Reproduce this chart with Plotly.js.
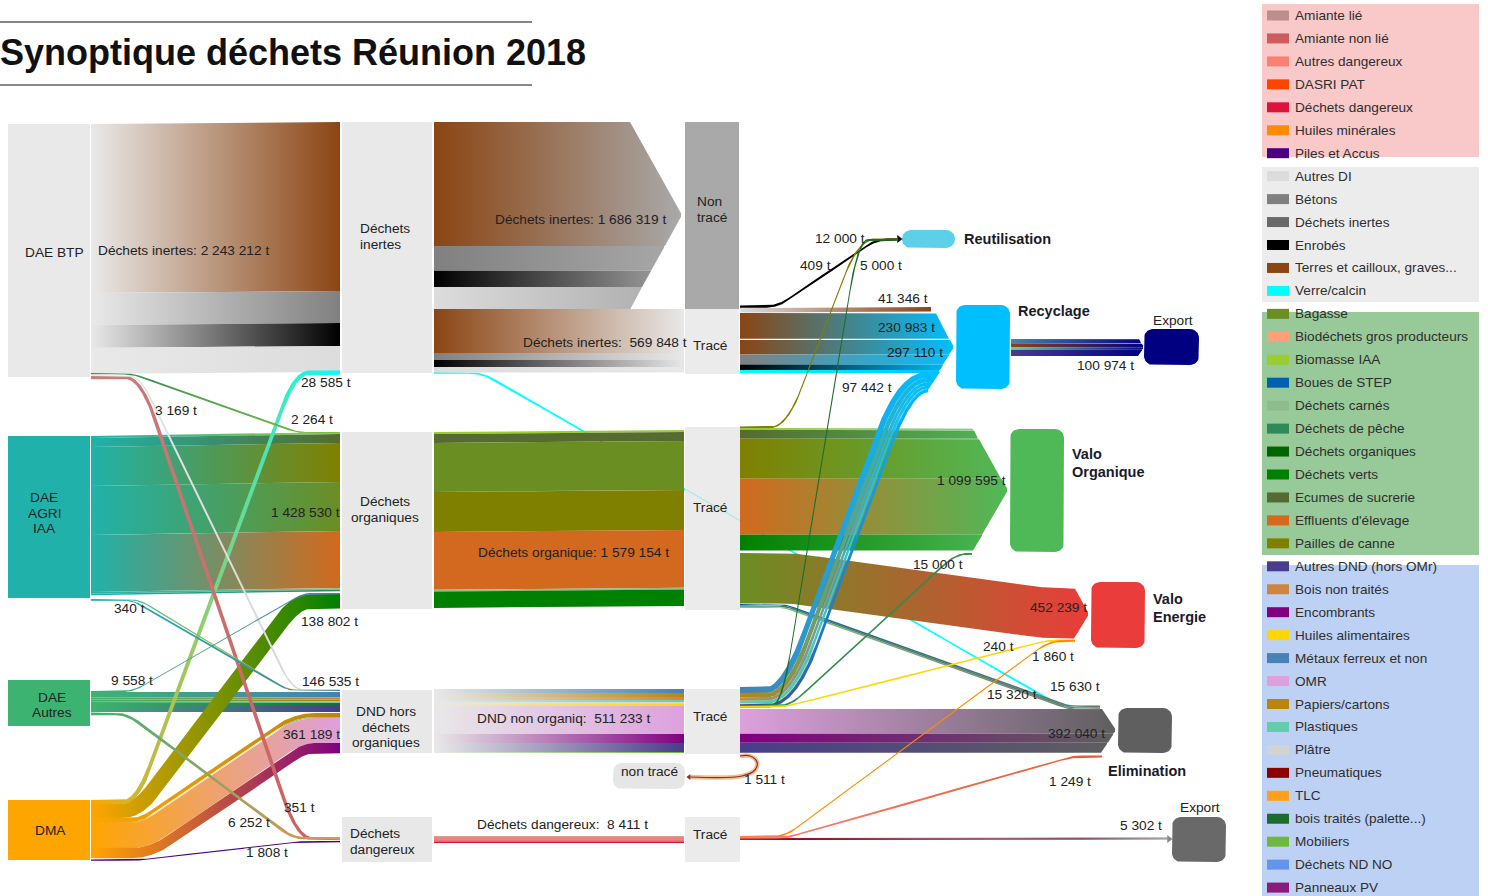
<!DOCTYPE html>
<html><head><meta charset="utf-8">
<script src="https://cdn.plot.ly/plotly-3.0.1.min.js"></script>
<style>html,body{margin:0;padding:0;background:#fff}#chart{width:1488px;height:896px}</style>
</head><body><div id="chart"></div>
<script>
// ---------- legend ----------
const legendNames=['Amiante lié','Amiante non lié','Autres dangereux','DASRI PAT','Déchets dangereux','Huiles minérales','Piles et Accus',
'Autres DI','Bétons','Déchets inertes','Enrobés','Terres et cailloux, graves...','Verre/calcin',
'Bagasse','Biodéchets gros producteurs','Biomasse IAA','Boues de STEP','Déchets carnés','Déchets de pêche','Déchets organiques','Déchets verts','Ecumes de sucrerie',"Effluents d'élevage",'Pailles de canne',
'Autres DND (hors OMr)','Bois non traités','Encombrants','Huiles alimentaires','Métaux ferreux et non','OMR','Papiers/cartons','Plastiques','Plâtre','Pneumatiques','TLC','bois traités (palette...)','Mobiliers','Déchets ND NO','Panneaux PV'];
const legendColors=['#bc8f8f','#cd5c5c','#fa8072','#ff4500','#dc143c','#ff8c00','#4b0082',
'#dcdcdc','#808080','#696969','#000000','#8b4513','#00ffff',
'#6b8e23','#ffa07a','#9acd32','#0060b0','#8fbc8f','#2e8b57','#006400','#008000','#556b2f','#d2691e','#808000',
'#483d8b','#cd853f','#800080','#ffd700','#4682b4','#dda0dd','#b8860b','#66cdaa','#d3d3d3','#8b0000','#ff9f1c','#1e6b2e','#6fb83f','#6495ed','#8b1a7a'];
const colorOf=n=>legendColors[legendNames.indexOf(n)];

// ---------- flow values (tonnes) ----------
const btpInertesMats=['Terres et cailloux, graves...','Bétons','Enrobés','Autres DI'];
const btpInertesVals=[1517212,287000,206000,233000];
const nonTraceVals=[1112319,224000,144000,206000];
const traceInertesVals=[395000,63000,62000,49848];
const agriMats=['Biomasse IAA','Ecumes de sucrerie','Pailles de canne','Bagasse',"Effluents d'élevage",'Déchets carnés','Déchets de pêche'];
const agriVals=[18000,80000,350000,440000,512000,15000,13530];
const organiqueMats=['Biomasse IAA','Ecumes de sucrerie','Bagasse','Pailles de canne',"Effluents d'élevage",'Déchets carnés','Déchets verts'];
const organiqueVals=[18000,80000,440000,359000,520000,15000,147154];
const autresMats=['Métaux ferreux et non','Bois non traités','Papiers/cartons','Plastiques','bois traités (palette...)','Autres DND (hors OMr)'];
const autresVals=[40000,14000,14000,12000,14000,52535];
const dmaOmrMats=['Papiers/cartons','Plastiques','OMR','Encombrants'];
const dmaOmrVals=[36000,9000,225189,91000];
const dndMats=['Métaux ferreux et non','Papiers/cartons','Bois non traités','Plastiques','Plâtre','Huiles alimentaires','OMR','Encombrants','Autres DND (hors OMr)','Mobiliers'];
const dndVals=[32000,32000,24000,16000,16000,16000,223233,72000,72000,8000];
const dangerMats=['Amiante lié','Autres dangereux','Amiante non lié','Déchets dangereux'];
const dangerVals=[1000,4000,2000,1411];
const valoOrgMats=['Biomasse IAA','Ecumes de sucrerie','Pailles de canne',"Effluents d'élevage",'Déchets verts'];
const valoOrgVals=[16000,80000,359000,504000,140595];
const recycTopVals=[41346];
const recycTerresVals=[230983];
const recycMixMats=['Terres et cailloux, graves...','Bétons','Enrobés','Verre/calcin'];
const recycMixVals=[130000,90000,50000,27110];
const recycDndMats=['Métaux ferreux et non','Papiers/cartons','Bois non traités','Plastiques','Huiles alimentaires','Autres DND (hors OMr)'];
const recycDndVals=[28000,22000,15000,14000,3000,15442];
const elimMats=['OMR','Encombrants','Autres DND (hors OMr)'];
const elimVals=[222040,80000,90000];
const exportMats=['Métaux ferreux et non','Terres et cailloux, graves...','Plastiques','Autres DND (hors OMr)'];
const exportVals=[25000,26000,13000,36974];
const elimGreyMats=['Boues de STEP','Déchets de pêche','Déchets carnés'];
const elimGreyVals=[5000,5320,5000];

// ---------- drawing table (geometry only; widths come from the values) ----------
const K=1.114e-4;
const cBTP='#e9e9e9',cAgri='#20b2aa',cAutres='#3cb371',cDMA='#ffa500',cDI='#a9a9a9',cLight='#e8e8e8';
const cRec='#00bfff',cOrg='#4fb958',cEn='#ea3c3a',cEl='#5f5f5f',cNavy='#000080';

const underBands=[
 {mats:['Verre/calcin'],vals:[15630],xa:434,xb:1100,ya:372,yb:705,c1:482,c2:1060,r:12,solid:1}
];
const bands=[
 {mats:btpInertesMats,vals:btpInertesVals,xa:91,xb:340,ya:124,yb:122,from:cBTP},
 {mats:btpInertesMats,vals:nonTraceVals,xa:434,xb:684,ya:122,yb:122,to:cDI,head:{x:630,top:122,tipX:682,tipY:215,bottom:309}},
 {mats:btpInertesMats,vals:traceInertesVals,xa:434,xb:684,ya:309,yb:309,to:cLight},
 {mats:agriMats,vals:agriVals,xa:91,xb:340,ya:436,yb:432,from:cAgri},
 {mats:organiqueMats,vals:organiqueVals,xa:434,xb:684,ya:432,yb:430,solid:1},
 {mats:dndMats,vals:dndVals,xa:434,xb:684,ya:689,yb:689,from:cLight,k:1.25e-4},
 {mats:dangerMats,vals:dangerVals,xa:434,xb:684,ya:836,yb:836,solid:1,k:8.3e-4},
 {mats:autresMats,vals:autresVals,xa:91,xb:340,ya:692,yb:692,from:cAutres,k:1.37e-4},
 {mats:['Déchets verts'],vals:[138802],xa:91,xb:340,ya:802.5,yb:593,c1:138,c2:297,r:15,from:cDMA},
 {mats:dmaOmrMats,vals:dmaOmrVals,xa:91,xb:340,ya:818,yb:713,c1:146,c2:300,r:15,from:cDMA},
 {mats:['Verre/calcin'],vals:[28585],xa:91,xb:340,ya:800,yb:370.5,c1:137,c2:295,r:14,from:cDMA,k:1.5e-4},
 {mats:['Piles et Accus'],vals:[1808],xa:91,xb:340,ya:859.5,yb:841,c1:140,c2:300,r:8,solid:1,min:1.2},
 {mats:valoOrgMats,vals:valoOrgVals,xa:740,xb:1008,ya:428,yb:428,to:cOrg,head:{x:972,top:427,tipX:1008,tipY:490,bottom:553}},
 {mats:['Bagasse'],vals:[452239],xa:740,xb:1089,ya:553,yb:588,c1:792,c2:1045,r:15,to:cEn,head:{x:1073,top:585,tipX:1089,tipY:614,bottom:641}},
 {mats:elimMats,vals:elimVals,xa:740,xb:1116,ya:709,yb:709,to:cEl,head:{x:1100,top:706,tipX:1116,tipY:730,bottom:755}},
 {mats:elimGreyMats,vals:elimGreyVals,xa:740,xb:1100,ya:604,yb:706,c1:785,c2:1070,r:8,to:'#6b7a6b',k:2.6e-4,min:1},
 {mats:['Terres et cailloux, graves...'],vals:recycTopVals,xa:740,xb:931,ya:308,yb:307,from:'#dcdcdc'},
 {mats:['Terres et cailloux, graves...'],vals:recycTerresVals,xa:740,xb:954,ya:313,yb:313,to:cRec,stop:954,head:{x:932,top:306,tipX:954,tipY:347,bottom:383}},
 {mats:recycMixMats,vals:recycMixVals,xa:740,xb:954,ya:340,yb:340,to:cRec,stop:954,head:{x:932,top:306,tipX:954,tipY:347,bottom:383}},
 {mats:exportMats,vals:exportVals,xa:1011,xb:1144,ya:339,yb:339,to:cNavy,k:1.68e-4,head:{x:1137,top:336,tipX:1144,tipY:347,bottom:358}},
 {mats:['Plâtre'],vals:[2000],xa:91,xb:340,ya:375,yb:689.5,c1:140,c2:292,r:12,from:cBTP,k:7e-4},
 {mats:['Amiante non lié'],vals:[3169],xa:91,xb:340,ya:376,yb:837,c1:141,c2:297,r:15,from:'#c88080',k:1e-3},
 {mats:['Déchets de pêche'],vals:[2264],xa:91,xb:340,ya:373,yb:432,c1:133,c2:297,r:12,to:'#7fc040',k:6e-4},
 {mats:['Huiles alimentaires'],vals:[340],xa:91,xb:340,ya:599,yb:689.5,c1:139,c2:288,r:10,from:cAgri,min:1.2},
 {mats:['Métaux ferreux et non'],vals:[340],xa:91,xb:340,ya:599.6,yb:690,c1:133,c2:288,r:10,from:cAgri,min:1.1},
 {mats:['Métaux ferreux et non'],vals:[9558],xa:91,xb:340,ya:691,yb:593,c1:133,c2:303,r:12,from:cAutres,k:1.3e-4},
 {mats:['Autres dangereux'],vals:[6252],xa:91,xb:340,ya:712.5,yb:837,c1:127,c2:293,r:12,from:cAutres,to:'#f09050',k:4.2e-4},
 {mats:recycDndMats,vals:recycDndVals,xa:740,xb:928,ya:687,yb:372,c1:789,c2:905,r:22,to:cRec,k:2.1e-4},
 {mats:['Enrobés'],vals:[12000],xa:740,xb:897,ya:305.5,yb:238.2,c1:778,c2:876,r:12,k:1.9e-4,solid:1},
 {mats:['Pailles de canne'],vals:[409],xa:740,xb:897,ya:426.5,yb:238.5,c1:787,c2:858,r:16,solid:1,min:1.6},
 {mats:['bois traités (palette...)'],vals:[5000],xa:740,xb:897,ya:705,yb:239,c1:782,c2:858,r:10,solid:1,min:1.5},
 {mats:['Déchets de pêche'],vals:[15000],xa:740,xb:972,ya:705,yb:553,c1:790,c2:956,r:12,to:'#3a8a4a',min:1.7},
 {mats:['Huiles alimentaires'],vals:[240],xa:740,xb:1075,ya:706,yb:639.5,c1:785,c2:1048,r:10,solid:1,min:1.6},
 {mats:['Huiles minérales'],vals:[1860],xa:740,xb:1075,ya:836,yb:640,c1:785,c2:1049,r:14,solid:1,min:1.7},
 {mats:['Déchets dangereux','Pneumatiques'],vals:[2651,2651],xa:740,xb:1168,ya:838,yb:837.5,stops:[[0,'#dc143c'],[0.15,'#8b0020'],[0.6,'#8a3a55'],[0.8,'#703048'],[1,'#8a8a8a']],k:3.9e-4},
 {mats:['Autres dangereux'],vals:[1249],xa:740,xb:1102,ya:836.5,yb:755.5,c1:788,c2:1072,r:10,to:'#e85a30',k:1.7e-3},
];
const faintBands=[
 {mats:['Verre/calcin'],vals:[15630],xa:684,xb:740,ya:488,yb:520,color:'rgba(0,230,230,0.35)',k:0.7e-4,min:1}
];
const arrowFills=[{x:[927,940,927],y:[372,372,391.5],color:cRec}];
const arrowTips=[{x:899,y:239,symbol:'triangle-right',color:'#111',size:7},{x:1169,y:839,symbol:'triangle-right',color:'#8a8a8a',size:7},{x:689,y:777,symbol:'triangle-left',color:'#8b3030',size:5}];
const loopPath={x:[740,750,757,755,742,690],y:[756,756,762,770,776,777]};

const nodes=[
 [8,124,90,377,cBTP,0],[8,436,90,598,cAgri,0],[8,680,90,726,cAutres,0],[8,800,90,860,cDMA,0],
 [342,122,432,373,cBTP,0],[342,432,432,609,cLight,0],[342,690,432,753,cLight,0],[342,817,432,862,cLight,0],
 [685,122,739,309,cDI,0],[685,309,739,374,'#ebebeb',0],[685,427,740,610,'#ebebeb',0],[685,689,740,754,'#ebebeb',0],[685,817,740,862,'#ebebeb',0],
 [613,763,685,789,'#e6e6e6',9],
 [902,230,955,248,'#5bd0e8',9],[956,305,1010,389,cRec,9],[1144,329,1199,365,cNavy,9],[1010,429,1064,552,cOrg,9],
 [1091,582,1145,648,cEn,9],[1118,708,1172,753,cEl,9],[1172,817,1226,862,'#696969',9]
];
// [text, x, y, anchor, bold]
const labels=[
 ['DAE BTP',54,252,'center'],['Déchets inertes: 2 243 212 t',98,250],['Déchets',360,228],['inertes',360,244],
 ['Déchets inertes: 1 686 319 t',495,219],['Non',697,201],['tracé',697,217],['Déchets inertes:  569 848 t',523,342],['Tracé',710,345,'center'],
 ['12 000 t',815,238],['409 t',800,265],['5 000 t',860,265],['Reutilisation',964,239,'left',1],['41 346 t',878,298],['230 983 t',878,327],['297 110 t',887,352],
 ['Recyclage',1018,311,'left',1],['Export',1153,320],['100 974 t',1077,365],['97 442 t',842,387],
 ['28 585 t',301,382],['3 169 t',155,410],['2 264 t',291,419],['DAE',44,497,'center'],['AGRI',44,513,'center'],['IAA',44,528,'center'],['1 428 530 t',271,512],
 ['Déchets',385,501,'center'],['organiques',385,517,'center'],['Tracé',710,507,'center'],['Déchets organique: 1 579 154 t',478,552],
 ['1 099 595 t',937,480],['Valo',1072,454,'left',1],['Organique',1072,472,'left',1],['15 000 t',913,564],['452 239 t',1030,607],['Valo',1153,599,'left',1],['Energie',1153,617,'left',1],
 ['240 t',983,646],['1 860 t',1032,656],['15 630 t',1050,686],['15 320 t',987,694],['392 040 t',1048,733],['Tracé',710,716,'center'],['DND non organiq:  511 233 t',477,718],
 ['DND hors',386,711,'center'],['déchets',386,727,'center'],['organiques',386,742,'center'],['non tracé',621,771],['1 511 t',744,779],['Elimination',1108,771,'left',1],['1 249 t',1049,781],
 ['Export',1180,807],['5 302 t',1120,825],['340 t',114,608],['138 802 t',301,621],['9 558 t',111,680],['146 535 t',302,681],['DAE',52,697,'center'],['Autres',52,712,'center'],
 ['361 189 t',283,734],['351 t',284,807],['6 252 t',228,822],['1 808 t',246,852],['DMA',50,830,'center'],['Déchets',350,833],['dangereux',350,849],['Tracé',710,834,'center'],['Déchets dangereux:  8 411 t',477,824]
];
const legendPanels=[[1262,4,1479,157,'#f9c8c8'],[1262,167,1479,302,'#ececec'],[1262,312,1479,555,'#98c998'],[1262,565,1479,896,'#bdd1f5']];
const FONT='"Liberation Sans", Arial, sans-serif';

// ---------- builders ----------
function ramp(t,r){ if(r<=0) return t>0?t:0; if(t<-r) return 0; if(t>r) return t; return (t+r)*(t+r)/(4*r); }
function pathFn(b){
 const c1=b.c1===undefined?b.xa:b.c1, c2=b.c2===undefined?b.xb:b.c2, r=b.r||0;
 const s=(b.yb-b.ya)/(c2-c1);
 return x=>b.ya+s*(ramp(x-c1,r)-ramp(x-c2,r));
}
function bandTraces(b){
 const k=b.k||K, min=b.min||0, Y=pathFn(b), out=[];
 const normal=b.c1!==undefined&&!b.head;
 const w=b.vals.map(v=>Math.max(v*k,min));
 const total=w.reduce((a,c)=>a+c,0);
 const step=normal?0.5:1, endX=b.head?b.head.tipX:b.xb;
 const xs=[]; for(let x=b.xa;x<endX;x+=step) xs.push(x); xs.push(endX);
 let off=0;
 b.mats.forEach((m,i)=>{
  const o0=off,o1=off+w[i]; off=o1;
  const up=[],lo=[];
  for(const x of xs){
   if(normal){
    const c=Y(x)+total/2, m2=(Y(x+0.25)-Y(x-0.25))/0.5, L=Math.hypot(1,m2);
    const nx=-m2/L, ny=1/L, d0=o0-total/2, d1=o1-total/2;
    up.push([x+nx*d0,c+ny*d0]); lo.push([x+nx*d1,c+ny*d1]);
   } else {
    let t=Y(x)+o0, u=Y(x)+o1;
    if(b.head&&x>b.head.x){
     const f=(x-b.head.x)/(b.head.tipX-b.head.x);
     t=Math.max(t,b.head.top+f*(b.head.tipY-b.head.top));
     u=Math.min(u,b.head.bottom+f*(b.head.tipY-b.head.bottom));
     if(t>=u) break;
    }
    up.push([x,t]); lo.push([x,u]);
   }
  }
  lo.reverse();
  const pts=up.concat(lo);
  const tr={type:'scatter',mode:'lines',x:pts.map(p=>p[0]),y:pts.map(p=>p[1]),fill:'toself',line:{width:0},hoverinfo:'skip',showlegend:false,name:m};
  const col=colorOf(m);
  if(b.color){ tr.fillcolor=b.color; }
  else if(b.solid){ tr.fillcolor=col; }
  else {
   const scale=b.stops||[[0,b.from||col],[1,b.to||col]];
   tr.fillgradient={type:'horizontal',start:b.xa,stop:b.stop||endX,colorscale:scale};
  }
  out.push(tr);
 });
 return out;
}
function nodeTrace(n){
 const [x0,y0,x1,y1,c,r]=n, xs=[],ys=[];
 if(!r){ xs.push(x0,x1,x1,x0); ys.push(y0,y0,y1,y1); }
 else {
  const corners=[[x1-r,y0+r,-90],[x1-r,y1-r,0],[x0+r,y1-r,90],[x0+r,y0+r,180]];
  corners.forEach(([cx,cy,a])=>{ for(let t=0;t<=90;t+=10){ const q=(a+t)*Math.PI/180; xs.push(cx+r*Math.cos(q)); ys.push(cy+r*Math.sin(q)); }});
 }
 return {type:'scatter',mode:'lines',x:xs,y:ys,fill:'toself',fillcolor:c,line:{width:0},hoverinfo:'skip',showlegend:false};
}
const traces=[];
underBands.forEach(b=>traces.push(...bandTraces(b)));
bands.forEach(b=>traces.push(...bandTraces(b)));
arrowFills.forEach(f=>traces.push({type:'scatter',mode:'lines',x:f.x,y:f.y,fill:'toself',fillcolor:f.color,line:{width:0},hoverinfo:'skip',showlegend:false}));
nodes.forEach(n=>traces.push(nodeTrace(n)));
faintBands.forEach(b=>traces.push(...bandTraces(b)));
traces.push({type:'scatter',mode:'lines',x:loopPath.x,y:loopPath.y,line:{color:'#efc090',width:4.5,shape:'spline'},hoverinfo:'skip',showlegend:false});
traces.push({type:'scatter',mode:'lines',x:loopPath.x,y:loopPath.y,line:{color:'#8b3030',width:1.2,shape:'spline'},hoverinfo:'skip',showlegend:false});
arrowTips.forEach(a=>traces.push({type:'scatter',mode:'markers',x:[a.x],y:[a.y],marker:{symbol:a.symbol,color:a.color,size:a.size},hoverinfo:'skip',showlegend:false}));

const annotations=labels.map(([t,x,y,anchor,bold])=>({text:bold?'<b>'+t+'</b>':t,x,y,xref:'x',yref:'y',xanchor:anchor||'left',yanchor:'middle',showarrow:false,
 font:{family:FONT,size:bold?14.5:13.7,color:bold?'#1a1a2a':'#222'},borderpad:0,borderwidth:0}));
const shapes=[];
legendPanels.forEach(p=>shapes.push({type:'rect',layer:'below',x0:p[0],y0:p[1],x1:p[2],y1:p[3],xref:'x',yref:'y',fillcolor:p[4],line:{width:0}}));
legendNames.forEach((n,i)=>{
 const cy=15.5+22.95*i;
 shapes.push({type:'rect',layer:'below',x0:1267,x1:1289,y0:cy-5,y1:cy+5,xref:'x',yref:'y',fillcolor:legendColors[i],line:{width:0}});
 annotations.push({text:n,x:1294,y:cy,xref:'x',yref:'y',xanchor:'left',yanchor:'middle',showarrow:false,font:{family:FONT,size:13.6,color:'#2e2e2e'},borderpad:0});
});
[22,85].forEach(y=>shapes.push({type:'line',x0:0,x1:532,y0:y,y1:y,xref:'x',yref:'y',line:{color:'#111',width:1}}));

const layout={width:1488,height:896,margin:{l:0,r:0,t:0,b:0},paper_bgcolor:'#fff',plot_bgcolor:'#fff',showlegend:false,
 title:{text:'<b>Synoptique déchets Réunion 2018</b>',x:0,xref:'paper',xanchor:'left',y:1-52/896,yref:'paper',yanchor:'middle',font:{family:FONT,size:36,color:'#111'},pad:{l:0,r:0,t:0,b:0}},
 xaxis:{range:[0,1488],visible:false,fixedrange:true},yaxis:{range:[896,0],visible:false,fixedrange:true},
 shapes,annotations,hovermode:false};
Plotly.newPlot('chart',traces,layout,{displayModeBar:false,responsive:false});
</script></body></html>
